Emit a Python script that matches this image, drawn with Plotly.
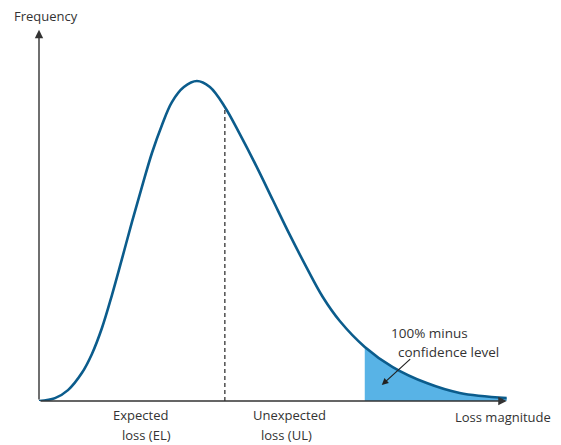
import plotly.graph_objects as go

# loss magnitude (arbitrary units) and frequency
loss = [0.0, 0.342, 0.620, 0.919, 1.132, 1.346, 1.560, 1.774, 1.987, 2.201, 2.415, 2.628, 2.842,
        3.098, 3.376, 3.654, 3.974, 4.295, 4.658, 5.000, 5.363, 5.726, 6.068, 6.432, 6.966,
        7.564, 8.291, 8.996, 10.0]
freq = [0.0, 0.009, 0.034, 0.088, 0.147, 0.228, 0.331, 0.444, 0.559, 0.669, 0.775, 0.862, 0.934,
        0.981, 1.0, 0.981, 0.919, 0.834, 0.731, 0.628, 0.519, 0.416, 0.325, 0.250, 0.169,
        0.106, 0.056, 0.025, 0.009]

el_x = 3.974      # expected loss marker
conf_x = 6.966    # confidence level cut-off

tail_x = [x for x in loss if x >= conf_x]
tail_y = [y for x, y in zip(loss, freq) if x >= conf_x]

curve_col = '#0b5c8c'
shade_col = '#58b3e6'
ink = '#333333'
font = 'Open Sans'

fig = go.Figure()
fig.add_trace(go.Scatter(x=tail_x, y=tail_y, mode='lines', fill='tozeroy',
                         fillcolor=shade_col, line=dict(color=shade_col, width=0, shape='spline'),
                         hoverinfo='skip'))
fig.add_trace(go.Scatter(x=loss, y=freq, mode='lines',
                         line=dict(color=curve_col, width=2.6, shape='spline', smoothing=1),
                         hoverinfo='skip'))

# dashed EL line
fig.add_shape(type='line', x0=el_x, x1=el_x, y0=0, y1=freq[loss.index(el_x)],
              line=dict(color='#444444', width=1.4, dash='4px,3px'))

# axes as arrows
fig.add_annotation(x=0, y=1.16, ax=0, ay=0, xref='x', yref='y', axref='x', ayref='y',
                   showarrow=True, arrowhead=2, arrowsize=1.2, arrowwidth=1.4, arrowcolor=ink, text='')
fig.add_annotation(x=10.0, y=0, ax=0, ay=0, xref='x', yref='y', axref='x', ayref='y',
                   showarrow=True, arrowhead=2, arrowsize=1.2, arrowwidth=1.4, arrowcolor=ink, text='')

# callout arrow
fig.add_annotation(x=7.33, y=0.05, ax=7.97, ay=0.135, xref='x', yref='y', axref='x', ayref='y',
                   showarrow=True, arrowhead=2, arrowsize=1.1, arrowwidth=1.2, arrowcolor='#222222', text='')

txt = dict(family=font, size=13, color=ink)
big = dict(family=font, size=13.5, color=ink)
labels = [
    ('Frequency', 0.15, 1.0026, txt),
    ('Expected', 2.18, -0.036, txt),
    ('loss (EL)', 2.29, -0.089, txt),
    ('Unexpected', 5.36, -0.036, txt),
    ('loss (UL)', 5.30, -0.089, txt),
    ('Loss magnitude', 9.93, -0.042, txt),
    ('100% minus', 8.36, 0.177, big),
    ('confidence level', 8.76, 0.128, big),
]
for t, x, y, f in labels:
    fig.add_annotation(x=x, y=y, xref='x', yref='paper', text=t, showarrow=False,
                       font=f, yanchor='middle', xanchor='center')

fig.update_layout(
    width=553, height=437,
    margin=dict(l=31, r=45, t=9, b=44),
    paper_bgcolor='white', plot_bgcolor='white',
    showlegend=False,
    xaxis=dict(range=[0, 10.2], visible=False, fixedrange=True),
    yaxis=dict(range=[0, 1.2], visible=False, fixedrange=True),
)

fig.write_html("out.html")
